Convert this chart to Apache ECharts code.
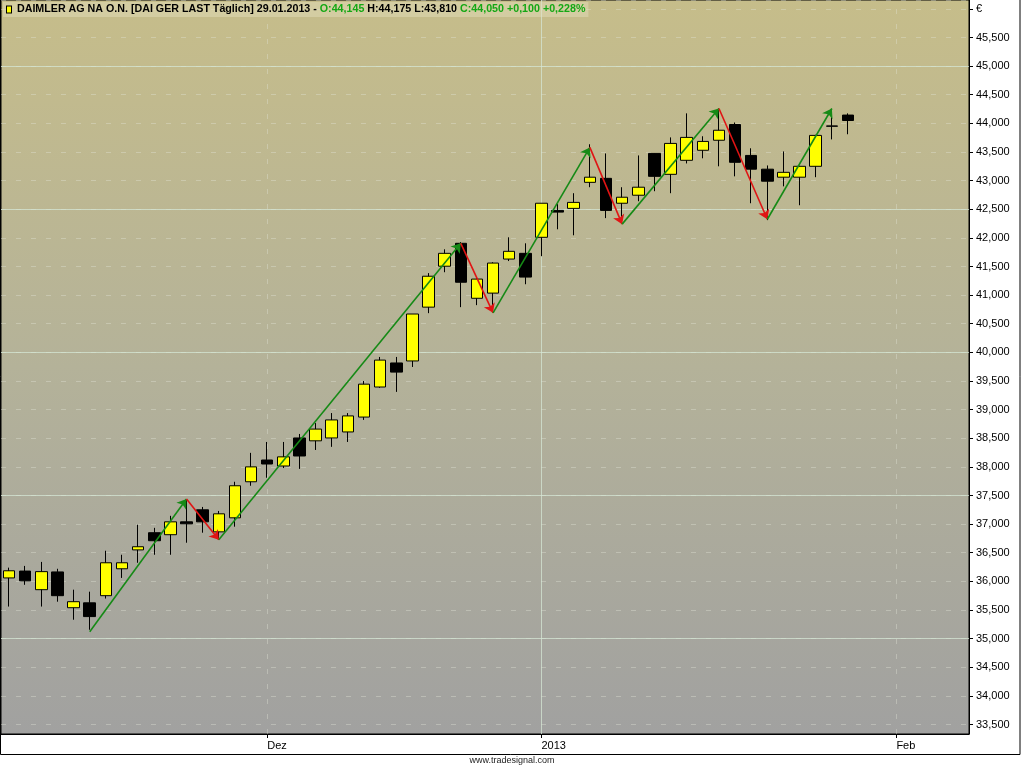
<!DOCTYPE html>
<html>
<head>
<meta charset="utf-8">
<script src="https://cdn.jsdelivr.net/npm/echarts@6/dist/echarts.min.js"></script>
<style>
html,body{margin:0;padding:0;background:#fff;}
#c{width:1024px;height:768px;}
</style>
</head>
<body>
<div id="c"></div>
<script>
// Trading days (category axis), incl. a few future slots up to Feb
const categories = [
 '09.11.2012','12.11.2012','13.11.2012','14.11.2012','15.11.2012','16.11.2012',
 '19.11.2012','20.11.2012','21.11.2012','22.11.2012','23.11.2012',
 '26.11.2012','27.11.2012','28.11.2012','29.11.2012','30.11.2012',
 '03.12.2012','04.12.2012','05.12.2012','06.12.2012','07.12.2012',
 '10.12.2012','11.12.2012','12.12.2012','13.12.2012','14.12.2012',
 '17.12.2012','18.12.2012','19.12.2012','20.12.2012','21.12.2012',
 '27.12.2012','28.12.2012',
 '02.01.2013','03.01.2013','04.01.2013',
 '07.01.2013','08.01.2013','09.01.2013','10.01.2013','11.01.2013',
 '14.01.2013','15.01.2013','16.01.2013','17.01.2013','18.01.2013',
 '21.01.2013','22.01.2013','23.01.2013','24.01.2013','25.01.2013',
 '28.01.2013','29.01.2013',
 '30.01.2013','31.01.2013','01.02.2013','04.02.2013','05.02.2013','06.02.2013','07.02.2013'
];
// OHLC (EUR)
const opens  = [36.060,36.180,35.855,36.165,35.540,35.625,35.750,36.220,36.550,36.850,36.815,37.040,37.250,36.865,37.110,37.740,38.120,38.015,38.505,38.455,38.505,38.610,38.870,39.395,39.815,39.850,40.790,41.505,41.905,40.945,41.035,41.630,41.730,42.010,42.480,42.515,42.970,43.040,42.605,42.745,43.475,43.110,43.355,43.530,43.705,43.980,43.440,43.200,43.060,43.060,43.250,43.955,44.145];
const closes = [36.185,36.010,36.170,35.750,35.645,35.385,36.325,36.325,36.605,36.710,37.040,37.005,37.040,37.180,37.670,38.000,38.050,38.175,38.190,38.660,38.820,38.890,39.445,39.865,39.655,40.670,41.330,41.730,41.225,41.280,41.560,41.765,41.315,42.605,42.450,42.620,43.060,42.480,42.710,42.885,43.075,43.650,43.755,43.685,43.880,43.320,43.200,42.990,43.145,43.250,43.790,43.950,44.050];
const lows   = [35.560,35.940,35.560,35.645,35.330,35.155,35.700,36.060,36.325,36.465,36.465,36.675,36.850,36.725,36.955,37.670,37.810,37.980,37.965,38.295,38.350,38.435,38.820,39.380,39.310,39.745,40.685,41.400,40.790,40.825,40.720,41.595,41.190,41.680,42.150,42.045,42.885,42.345,42.260,42.640,42.815,42.780,43.300,43.390,43.250,43.075,42.605,42.310,42.900,42.570,43.060,43.720,43.810];
const highs  = [36.240,36.270,36.340,36.220,35.855,35.820,36.535,36.465,36.990,36.935,37.145,37.425,37.300,37.230,37.740,38.245,38.435,38.435,38.575,38.765,38.940,38.940,39.500,39.920,39.920,40.670,41.385,41.800,41.925,41.300,41.575,42.010,41.905,42.605,42.590,42.780,43.635,43.475,42.885,43.440,43.480,43.755,44.175,43.775,44.260,44.015,43.565,43.265,43.510,43.260,43.800,44.175,44.175];
// Zigzag swing points (category index, price)
const zigzagIdx = [5, 11, 13, 28, 30, 36, 38, 44, 47, 51];
const zigzagVal = [35.120, 37.440, 36.725, 41.905, 40.690, 43.580, 42.240, 44.260, 42.325, 44.260];
// Axis tick labels
const xTickDates = ['03.12.2012','02.01.2013','01.02.2013'];
const xTickTexts = ['Dez','2013','Feb'];
const yMajorLines = [35.0, 37.5, 40.0, 42.5, 45.0];
const yMin = 33.334, yMax = 46.155;

const fmt = v => v.toFixed(3).replace('.', ',');
const n = opens.length;
const candleData = opens.map((o, i) => [o, closes[i], lows[i], highs[i]]);
const chg = closes[n-1] - closes[n-2];
const pct = chg / closes[n-2] * 100;
const sgn = v => (v >= 0 ? '+' : '-') + Math.abs(v).toFixed(3).replace('.', ',');
const sgnP = v => (v >= 0 ? '+' : '-') + Math.abs(v).toFixed(3).replace('.', ',') + '%';

const arrows = [];
for (let i = 0; i < zigzagIdx.length - 1; i++) {
  const up = zigzagVal[i+1] > zigzagVal[i];
  arrows.push([
    {coord: [categories[zigzagIdx[i]], zigzagVal[i]]},
    {coord: [categories[zigzagIdx[i+1]], zigzagVal[i+1]],
     lineStyle: {color: up ? '#168a16' : '#e01414', width: 1.6, type: 'solid'}}
  ]);
}

const dotted = {color: 'rgba(225,228,215,0.38)', width: 1, type: [5, 10]};
const solid = {color: 'rgba(212,230,212,0.75)', width: 1, type: 'solid'};
const gridLines = yMajorLines.map(v => ({yAxis: v, lineStyle: solid}));
xTickDates.forEach((d, i) => {
  gridLines.push({xAxis: d, lineStyle: i === 1 ? solid : dotted});
});

const isTick = (idx) => xTickDates.indexOf(categories[idx]) >= 0;

const chart = echarts.init(document.getElementById('c'));
chart.setOption({
  animation: false,
  backgroundColor: '#ffffff',
  textStyle: {fontFamily: 'Liberation Sans'},
  title: {
    left: 4, top: 2,
    padding: [2, 3],
    backgroundColor: 'rgba(228,224,190,0.45)',
    text: '{ic|}{k|  DAIMLER AG NA O.N. [DAI GER LAST Täglich] 29.01.2013 - }{g|O:' + fmt(opens[n-1]) + '}{k| H:' + fmt(highs[n-1]) + ' L:' + fmt(lows[n-1]) + ' }{g|C:' + fmt(closes[n-1]) + ' ' + sgn(chg) + ' ' + sgnP(pct) + '}',
    textStyle: {
      fontSize: 10.7,
      rich: {
        ic: {width: 4, height: 6, backgroundColor: '#ffff00', borderColor: '#000', borderWidth: 1},
        k: {color: '#000', fontSize: 10.7, fontFamily: 'Liberation Sans'},
        g: {color: '#14a814', fontSize: 10.7, fontFamily: 'Liberation Sans'}
      }
    }
  },
  graphic: [
    {type: 'rect', z: 100, silent: true, shape: {x: 0.5, y: -2, width: 1019.5, height: 756.5},
     style: {fill: 'transparent', stroke: '#000', lineWidth: 1}},
    {type: 'text', left: 976, top: 3, silent: true,
     style: {text: '€', fontSize: 11, fill: '#000', fontFamily: 'Liberation Sans'}},
    {type: 'text', left: 'center', top: 756, silent: true,
     style: {text: 'www.tradesignal.com', fontSize: 9, fill: '#222', fontFamily: 'Liberation Sans'}}
  ],
  grid: {
    left: 1, right: 55, top: 0, bottom: 34,
    show: true,
    borderColor: '#000', borderWidth: 1,
    backgroundColor: {
      type: 'linear', x: 0, y: 0, x2: 0, y2: 1,
      colorStops: [
        {offset: 0, color: '#c6bd8a'},
        {offset: 0.5, color: '#b4b299'},
        {offset: 1, color: '#a1a1a0'}
      ]
    }
  },
  xAxis: {
    type: 'category',
    data: categories,
    boundaryGap: true,
    axisLine: {show: true, lineStyle: {color: '#000'}},
    axisTick: {show: true, alignWithLabel: true, length: 4, interval: isTick, lineStyle: {color: '#000'}},
    axisLabel: {
      interval: isTick, align: 'left', margin: 6, fontSize: 11, color: '#000',
      fontFamily: 'Liberation Sans',
      formatter: (v) => { const k = xTickDates.indexOf(v); return k >= 0 ? xTickTexts[k] : ''; }
    },
    splitLine: {show: false}
  },
  yAxis: {
    type: 'value',
    position: 'right',
    min: yMin, max: yMax,
    splitNumber: 26, minInterval: 0.5, maxInterval: 0.5,
    axisLine: {show: true, lineStyle: {color: '#000'}},
    axisTick: {show: true, length: 4, lineStyle: {color: '#000'}},
    axisLabel: {
      margin: 7, fontSize: 11, color: '#000', fontFamily: 'Liberation Sans',
      showMinLabel: false, showMaxLabel: false,
      formatter: (v) => {
        const m = Math.abs(v * 2 - Math.round(v * 2)) < 1e-6;
        if (!m || v > 45.9) return '';
        return fmt(v);
      }
    },
    splitLine: {show: true, lineStyle: dotted}
  },
  series: [
    {
      type: 'line', data: [], z: 1, silent: true,
      markLine: {silent: true, z: 1, symbol: 'none', animation: false,
        label: {show: false}, emphasis: {disabled: true}, data: gridLines}
    },
    {
      type: 'candlestick',
      data: candleData,
      barWidth: 12,
      z: 2,
      itemStyle: {color: '#ffff00', color0: '#000000', borderColor: '#000000', borderColor0: '#000000', borderWidth: 1},
      markLine: {
        silent: true, z: 5, animation: false,
        symbol: ['none', 'arrow'], symbolSize: 9,
        label: {show: false}, emphasis: {disabled: true},
        data: arrows
      }
    }
  ]
});
</script>
</body>
</html>
